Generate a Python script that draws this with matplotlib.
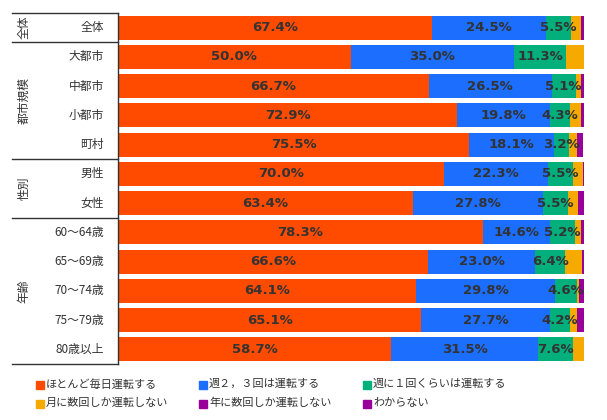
import matplotlib
matplotlib.use('Agg')
import matplotlib.pyplot as plt
from matplotlib.patches import Rectangle
import numpy as np

plt.rcParams['font.family'] = ['Noto Sans CJK JP', 'DejaVu Sans']

# data
rows = ['全体', '大都市', '中都市', '小都市', '町村', '男性', '女性',
        '60～64歳', '65～69歳', '70～74歳', '75～79歳', '80歳以上']
groups = [('全体', 0, 1), ('都市規模', 1, 5), ('性別', 5, 7), ('年齢', 7, 12)]
series = ['ほとんど毎日運転する', '週２，３回は運転する', '週に１回くらいは運転する',
          '月に数回しか運転しない', '年に数回しか運転しない', 'わからない']
colors = ['#FF4B00', '#1C6EFF', '#03AF7A', '#F6AA00', '#990099', '#990099']

daily   = [67.4, 50.0, 66.7, 72.9, 75.5, 70.0, 63.4, 78.3, 66.6, 64.1, 65.1, 58.7]
weekly2 = [24.5, 35.0, 26.5, 19.8, 18.1, 22.3, 27.8, 14.6, 23.0, 29.8, 27.7, 31.5]
weekly1 = [5.5, 11.3, 5.1, 4.3, 3.2, 5.5, 5.5, 5.2, 6.4, 4.6, 4.2, 7.6]
monthly = [2.0, 3.7, 1.1, 2.4, 1.9, 2.1, 2.2, 1.3, 3.6, 0.6, 1.7, 2.2]
yearly  = [0.6, 0.0, 0.6, 0.6, 1.2, 0.2, 1.1, 0.6, 0.4, 0.9, 1.3, 0.0]
unknown = [0.0, 0.0, 0.0, 0.0, 0.0, 0.0, 0.0, 0.0, 0.0, 0.0, 0.0, 0.0]

values = [daily, weekly2, weekly1, monthly, yearly, unknown]
labelled = 3  # first three series get value labels

W, H = 607, 420
fig = plt.figure(figsize=(W / 100, H / 100), dpi=100)

top_px, bot_px = 13, 364
ax = fig.add_axes([118 / W, 1 - bot_px / H, (584 - 118) / W, (bot_px - top_px) / H])
tab = fig.add_axes([12 / W, 1 - bot_px / H, (118 - 12) / W, (bot_px - top_px) / H])

n = len(rows)
y = np.arange(n)
left = np.zeros(n)
for i, vals in enumerate(values):
    vals = np.array(vals)
    ax.barh(y, vals, left=left, height=0.82, color=colors[i], linewidth=0)
    if i < labelled:
        for yi, (l, v) in enumerate(zip(left, vals)):
            ax.text(l + v / 2, yi, f'{v:.1f}%', ha='center', va='center',
                    fontsize=9.5, color='#333333', fontweight='bold',
                    family='DejaVu Sans')
    left += vals

ax.set_xlim(0, 100.1)
ax.set_ylim(n - 0.5, -0.5)
ax.axis('off')

# left table
tab.set_xlim(0, 106)
tab.set_ylim(n - 0.5, -0.5)
tab.axis('off')
tab.plot([106, 106], [-0.5, n - 0.5], color='#333333', lw=1, clip_on=False)
for name, a, b in groups:
    tab.plot([0, 106], [a - 0.5, a - 0.5], color='#333333', lw=1, clip_on=False)
    tab.text(12, (a + b - 1) / 2, name, rotation=90, ha='center', va='center',
             fontsize=8.5, color='#333333')
tab.plot([0, 106], [n - 0.5, n - 0.5], color='#333333', lw=1, clip_on=False)
for yi, r in enumerate(rows):
    tab.text(92, yi, r, ha='right', va='center', fontsize=8.5, color='#333333')

# legend
leg_x = [36, 199, 363]
leg_y = [384, 403]
for k, name in enumerate(series):
    cx = leg_x[k % 3]
    cy = leg_y[k // 3]
    fig.patches.append(Rectangle((cx / W, 1 - (cy + 5) / H), 8 / W, 8 / H,
                                 transform=fig.transFigure, color=colors[k]))
    fig.text((cx + 10) / W, 1 - cy / H, name, ha='left', va='center',
             fontsize=8, color='#333333')

fig.savefig('out.png', dpi=100)
